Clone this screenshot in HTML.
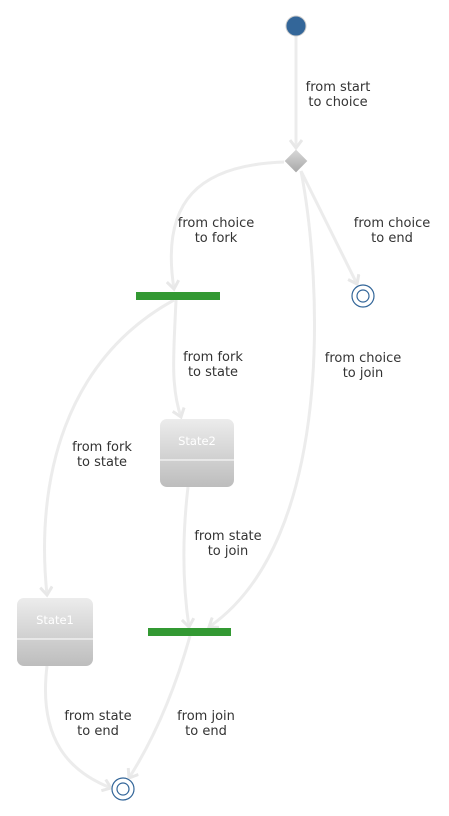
<!DOCTYPE html>
<html><head><style>
body{margin:0;background:#fff;width:449px;height:811px;overflow:hidden}
svg text{font-family:"DejaVu Sans","Liberation Sans",sans-serif;font-size:13px;fill:#333}
</style></head><body>
<svg width="449" height="811" viewBox="0 0 449 811" xmlns="http://www.w3.org/2000/svg">
<defs>
<marker id="a" markerWidth="14" markerHeight="14" refX="10" refY="7" orient="auto" markerUnits="userSpaceOnUse">
<polyline points="2,1 10,7 2,13" fill="none" stroke="#e8e8e8" stroke-width="3"/>
</marker>
<linearGradient id="g" x1="0" y1="0" x2="0" y2="1"><stop offset="0" stop-color="#ececec"/><stop offset="1" stop-color="#bdbdbd"/></linearGradient>
<linearGradient id="d" x1="0" y1="0" x2="1" y2="1"><stop offset="0" stop-color="#d8d8d8"/><stop offset="1" stop-color="#a8a8a8"/></linearGradient>
</defs>
<g fill="none" stroke="#ececec" stroke-width="3" marker-end="url(#a)">
<path d="M296,36 L296,148"/>
<path d="M284,162 C200,165 160,200 174,289"/>
<path d="M301,171 L357,284"/>
<path d="M301,171 C322,280 335,540 209,627"/>
<path d="M176,300 C174,350 170,385 181,417"/>
<path d="M174,300 C65,360 35,480 47,595"/>
<path d="M188,487 C183,530 182,580 189,627"/>
<path d="M47,666 C38,740 70,772 111,788"/>
<path d="M190,636 C172,700 150,745 129,778"/>
</g>
<circle cx="296" cy="26" r="10" fill="#336699" stroke="#ccc" stroke-width="1"/>
<rect x="288" y="153" width="16" height="16" fill="url(#d)" transform="rotate(45 296 161)"/>
<rect x="136" y="292" width="84" height="8" fill="#339933"/>
<rect x="148" y="628" width="83" height="8" fill="#339933"/>
<circle cx="363" cy="296" r="11" fill="#fff" stroke="#336699" stroke-width="1.2"/>
<circle cx="363" cy="296" r="6" fill="#fff" stroke="#336699" stroke-width="1.2"/>
<circle cx="123" cy="789" r="11" fill="#fff" stroke="#336699" stroke-width="1.2"/>
<circle cx="123" cy="789" r="6" fill="#fff" stroke="#336699" stroke-width="1.2"/>
<rect x="160" y="419" width="74" height="68" rx="7" fill="url(#g)"/>
<line x1="160" y1="460" x2="234" y2="460" stroke="#fff" stroke-width="1"/>
<text x="197" y="445" text-anchor="middle" style="fill:#fff;font-size:11.5px">State2</text>
<rect x="17" y="598" width="76" height="68" rx="7" fill="url(#g)"/>
<line x1="17" y1="639" x2="93" y2="639" stroke="#fff" stroke-width="1"/>
<text x="55" y="624" text-anchor="middle" style="fill:#fff;font-size:11.5px">State1</text>
<g text-anchor="middle">
<text x="338" y="91">from start</text><text x="338" y="106">to choice</text>
<text x="216" y="227">from choice</text><text x="216" y="242">to fork</text>
<text x="392" y="227">from choice</text><text x="392" y="242">to end</text>
<text x="213" y="361">from fork</text><text x="213" y="376">to state</text>
<text x="363" y="362">from choice</text><text x="363" y="377">to join</text>
<text x="102" y="451">from fork</text><text x="102" y="466">to state</text>
<text x="228" y="540">from state</text><text x="228" y="555">to join</text>
<text x="98" y="720">from state</text><text x="98" y="735">to end</text>
<text x="206" y="720">from join</text><text x="206" y="735">to end</text>
</g>
</svg>
</body></html>
